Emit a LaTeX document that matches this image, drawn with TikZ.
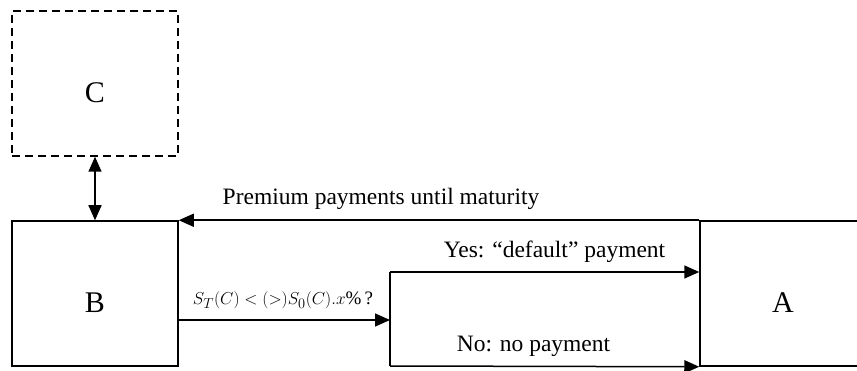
\documentclass[tikz,border=0pt]{standalone}
\usepackage{fontspec}
\setmainfont{Liberation Serif}
\usetikzlibrary{arrows.meta}
\begin{document}
\begin{tikzpicture}[x=1pt,y=-1pt,
  every path/.style={line width=1.5pt},
  party/.style={draw, line width=1.5pt, minimum width=166pt, minimum height=145pt, inner sep=0pt, font=\fontsize{30}{34}\selectfont},
  lbl/.style={font=\fontsize{23.5}{27}\selectfont, anchor=base, inner sep=0pt},
  arr/.style={-{Triangle[length=15pt,width=13pt]}},
  darr/.style={{Triangle[length=15pt,width=13pt]}-{Triangle[length=15pt,width=13pt]}}
]
\useasboundingbox (0,0) rectangle (857,371);
\node[party, dashed, dash pattern=on 8pt off 5pt] (C) at (95,83.5) {};
\node[font=\fontsize{30}{34}\selectfont] (Ct) at (95,93) {C};
\node[party] (B) at (95,293.5) {};
\node[font=\fontsize{30}{34}\selectfont] (Bt) at (95,303) {B};
\node[party] (A) at (783,293.5) {};
\node[font=\fontsize{30}{34}\selectfont] (At) at (783,303) {A};
\coordinate (jm) at (390,320);
\coordinate (j1) at (390,272);
\coordinate (j2) at (390,366);
\draw[darr] (C.south) -- (B.north);
\draw[arr] (A.north west) -- (B.north east);
\draw[arr] (B.east |- jm) -- (jm);
\draw (j1) -- (j2);
\draw[arr] (j1) -- (A.west |- j1);
\draw[arr] (j2) -- (A.south west);
\node[lbl] (prem) at (381,205) {Premium payments until maturity};
\node[font=\fontsize{19}{23}\selectfont, anchor=base, inner sep=0pt] (cond) at (283,305) {$S_T(C) < (>)S_0(C).x\%$\,?};
\node[lbl] (yes) at (554.5,258) {Yes: “default” payment};
\node[lbl] (no) at (533.5,352) {No: no payment};
\end{tikzpicture}
\end{document}
